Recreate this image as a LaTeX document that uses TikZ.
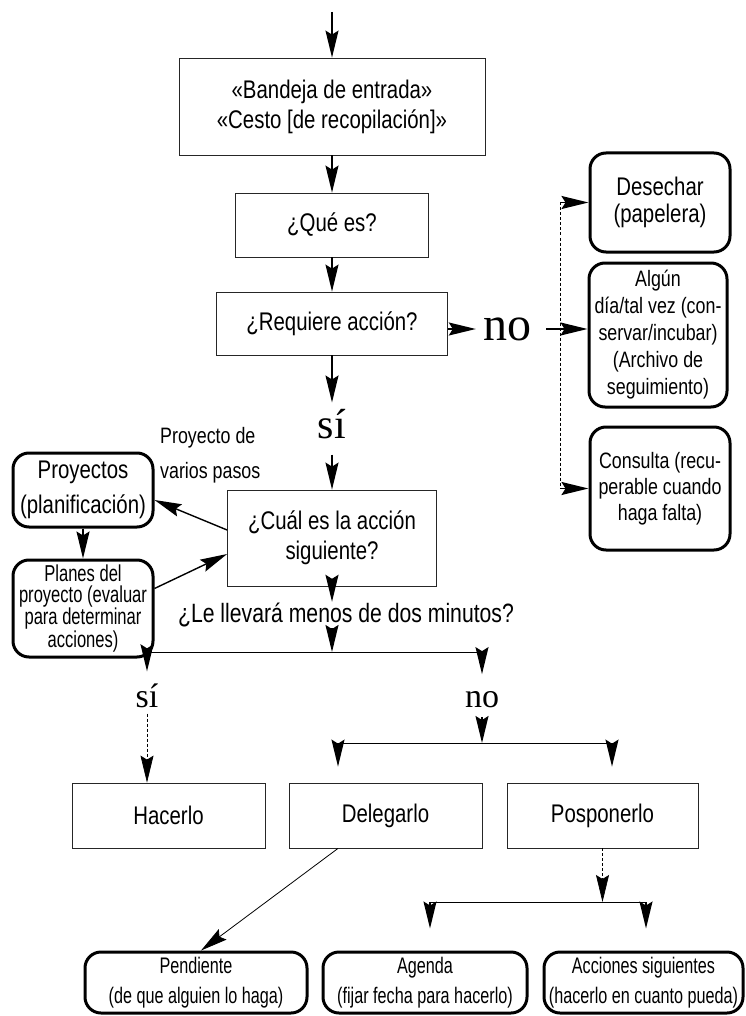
\documentclass[tikz,border=0pt]{standalone}
\usepackage{fontspec}
\setmainfont{Liberation Sans}[FakeStretch=0.8]
\newfontfamily\narrowfont{Liberation Sans}[FakeStretch=0.72]
\newfontfamily\labelfont{Liberation Serif}
\usetikzlibrary{arrows.meta}

\begin{document}
\begin{tikzpicture}[x=1pt, y=-1pt,
  font=\fontsize{25.5}{30}\selectfont,
  box/.style={draw=black!85, line width=0.8pt, align=center, inner sep=2pt},
  rbox/.style={draw=black, line width=3pt, rounded corners=16pt, align=center, inner sep=1pt},
  yesno/.style={font=\labelfont\fontsize{34}{34}\selectfont, inner sep=1pt},
  arr/.style={-{Stealth[length=27pt,width=13pt,inset=4pt]}, line width=1.4pt},
  thinline/.style={line width=0.7pt, densely dashed},
  split/.style={line width=1pt}
]
\useasboundingbox (0,0) rectangle (745,1016);

\coordinate (entry) at (332,12);
\node[box, minimum width=306pt, minimum height=97pt] (inbox) at (332,106.5)
  {«Bandeja de entrada»\\«Cesto [de recopilación]»};
\node[box, minimum width=193pt, minimum height=64pt] (what) at (332,225) {¿Qué es?};
\node[box, minimum width=231pt, minimum height=63pt] (action) at (332,323.5) {¿Requiere acción?};
\node[yesno, font=\labelfont\fontsize{42}{42}\selectfont] (yes1) at (332,424.5) {sí};
\node[box, minimum width=209pt, minimum height=96pt] (next) at (332,538)
  {¿Cuál es la acción\\siguiente?};
\node[yesno, font=\labelfont\fontsize{48}{48}\selectfont] (no1) at (507,329) {no};

\node[rbox, minimum width=140pt, minimum height=99pt, font=\fontsize{25.5}{27}\selectfont] (trash) at (660,202.5)
  {Desechar\\(papelera)};
\node[rbox, minimum width=138pt, minimum height=144pt, font=\fontsize{22.3}{27}\selectfont] (someday) at (658,335)
  {Algún\\día/tal vez (con-\\servar/incubar)\\(Archivo de\\seguimiento)};
\node[rbox, minimum width=140pt, minimum height=123pt, font=\fontsize{22.3}{26}\selectfont] (reference) at (660,488.5)
  {Consulta (recu-\\perable cuando\\haga falta)};
\coordinate (trunk) at (560,0);

\node[rbox, minimum width=140pt, minimum height=74pt, font=\fontsize{25.5}{35}\selectfont] (projects) at (83,490)
  {Proyectos\\(planificación)};
\node[rbox, minimum width=140pt, minimum height=97pt, font=\narrowfont\fontsize{23}{21}\selectfont] (plans) at (83,608.5)
  {Planes del\\proyecto (evaluar\\para determinar\\acciones)};
\node[anchor=west, align=left, inner sep=0pt, font=\fontsize{22.3}{35}\selectfont] (multistep) at (160,455)
  {Proyecto de\\varios pasos};

\node[inner sep=1pt, font=\fontsize{26.5}{30}\selectfont] (twomin) at (346,615) {¿Le llevará menos de dos minutos?};
\coordinate (branchyes) at (147,652);
\coordinate (branchno) at (482,652);
\node[yesno] (yes2) at (147,695.5) {sí};
\node[yesno] (no2) at (482,699.5) {no};
\coordinate (delegbranch) at (338,743);
\coordinate (deferbranch) at (612,743);

\node[box, minimum width=193pt, minimum height=65pt] (doit) at (168.5,815.5) {Hacerlo};
\node[box, minimum width=193pt, minimum height=65pt] (delegate) at (385.5,815.5) {Delegarlo};
\node[box, minimum width=191pt, minimum height=65pt] (defer) at (602.5,815.5) {Posponerlo};
\coordinate (calbranch) at (430,902);
\coordinate (actbranch) at (646,902);

\node[rbox, minimum width=222pt, minimum height=61pt, font=\narrowfont\fontsize{22.5}{30}\selectfont] (waiting) at (196,982.5)
  {Pendiente\\(de que alguien lo haga)};
\node[rbox, minimum width=204pt, minimum height=61pt, font=\narrowfont\fontsize{22.5}{30}\selectfont] (calendar) at (425,982.5)
  {Agenda\\(fijar fecha para hacerlo)};
\node[rbox, minimum width=199pt, minimum height=61pt, font=\narrowfont\fontsize{22.5}{30}\selectfont] (nextacts) at (643.5,982.5)
  {Acciones siguientes\\(hacerlo en cuanto pueda)};

\draw[arr] (entry) -- (inbox.north);
\draw[arr] (inbox.south) -- (what.north);
\draw[arr] (what.south) -- (action.north);
\draw[arr, shorten >=6pt] (action.south) -- (yes1.north);
\draw[arr, shorten <=14pt] (yes1.south) -- (next.north);
\draw[arr, shorten >=6pt] (action.east |- no1.west) -- (no1.west);
\draw[arr, shorten <=14pt] (no1.east) -- (someday.west |- no1.east);
\draw[thinline] (trash.west -| trunk) -- (reference.west -| trunk);
\draw[arr] (trash.west -| trunk) -- (trash.west);
\draw[arr] (reference.west -| trunk) -- (reference.west);

\draw[arr] ([yshift=8pt]next.west) -- ([yshift=-10pt]projects.east);
\draw[arr] (projects.south) -- (plans.north);
\draw[arr] ([yshift=20pt]plans.east) -- ([yshift=-16pt]next.west);

\draw[arr] (next.south) -- (next.south |- twomin.north);
\draw[arr] (next.south |- twomin.south) -- (next.south |- branchyes);
\draw[split] (branchyes) -- (branchno);
\draw[arr, shorten >=11pt] (branchyes) -- (yes2.north);
\draw[arr, shorten >=16pt] (branchno) -- (no2.north);
\draw[arr, thinline, shorten <=5pt] (yes2.south) -- (yes2.south |- doit.north);
\draw[arr, shorten <=8pt] (no2.south) -- (no2.south |- delegbranch);
\draw[split] (delegbranch) -- (deferbranch);
\draw[arr, shorten >=16pt] (delegbranch) -- (delegbranch |- delegate.north);
\draw[arr, shorten >=16pt] (deferbranch) -- (deferbranch |- defer.north);

\draw[arr, line width=0.8pt] ([xshift=-47.5pt]delegate.south) -- ([xshift=5pt]waiting.north);
\draw[arr, thinline] (defer.south) -- (defer.south |- calbranch);
\draw[split] (calbranch) -- (actbranch);
\draw[arr, shorten >=22pt] (calbranch) -- (calbranch |- calendar.north);
\draw[arr, shorten >=22pt] (actbranch) -- (actbranch |- nextacts.north);

\end{tikzpicture}
\end{document}
